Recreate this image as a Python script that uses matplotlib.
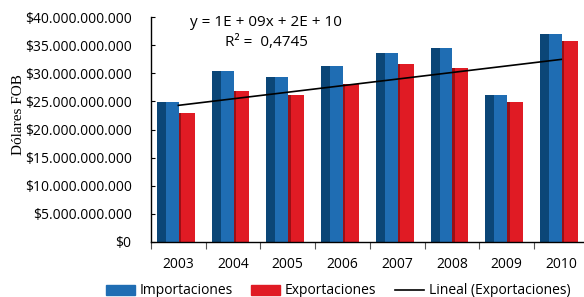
import numpy as np
import matplotlib.pyplot as plt
from matplotlib.patches import Patch
from matplotlib.lines import Line2D
from matplotlib.ticker import FuncFormatter

years = ['2003', '2004', '2005', '2006', '2007', '2008', '2009', '2010']
importaciones = [24.84e9, 30.40e9, 29.33e9, 31.29e9, 33.60e9, 34.49e9, 26.13e9, 36.98e9]
exportaciones = [22.88e9, 26.84e9, 26.13e9, 28.03e9, 31.64e9, 30.88e9, 24.89e9, 35.73e9]

blue = '#1f6db3'
blue_dark = '#0b4677'
red = '#e01b24'
red_dark = '#9b0f15'

plt.rcParams['font.family'] = ['Open Sans', 'DejaVu Sans']

fig = plt.figure(figsize=(5.84, 2.97), dpi=100)
ax = fig.add_axes([151 / 584, 55 / 297, 437.6 / 584, 225 / 297])

x = np.arange(len(years))
# blue bars: dark side face + lighter front
ax.bar(x - 0.39, importaciones, width=0.40, align='edge', color=blue, linewidth=0)
ax.bar(x - 0.39, importaciones, width=0.165, align='edge', color=blue_dark, linewidth=0)
# red bars: thin dark side + front
ax.bar(x + 0.01, exportaciones, width=0.29, align='edge', color=red, linewidth=0)
ax.bar(x + 0.01, exportaciones, width=0.045, align='edge', color=red_dark, linewidth=0)

# linear trend of exports
coef = np.polyfit(x + 1, exportaciones, 1)
ax.plot([x[0], x[-1]], np.polyval(coef, [1, len(x)]), color='black', linewidth=1.2)

ax.set_xlim(-0.5, 7.5)
ax.set_ylim(0, 40e9)
ax.set_yticks(np.arange(0, 40.1e9, 5e9))
ax.yaxis.set_major_formatter(FuncFormatter(lambda v, p: '$' + f'{v:,.0f}'.replace(',', '.')))
ax.tick_params(axis='y', direction='in', length=3, pad=14, labelsize=10, colors='black')

ax.set_xticks(np.arange(-0.5, 8, 1))
ax.set_xticklabels([])
ax.set_xticks(x, minor=True)
ax.set_xticklabels(years, minor=True, fontsize=10)
ax.tick_params(axis='x', which='major', direction='out', length=5, color='#555555')
ax.tick_params(axis='x', which='minor', length=0, pad=11)

for s in ['top', 'right']:
    ax.spines[s].set_visible(False)
ax.spines['left'].set_linewidth(1.0)
ax.spines['bottom'].set_linewidth(1.0)

fig.text(19 / 584, 1 - 115 / 297, 'Dólares FOB', family='Liberation Serif', fontsize=11,
         rotation=90, ha='center', va='center')

fig.text(266 / 584, 1 - 22 / 297, 'y = 1E + 09x + 2E + 10', ha='center', va='center', fontsize=11)
fig.text(266 / 584, 1 - 42 / 297, 'R² =  0,4745', ha='center', va='center', fontsize=11)

handles = [Patch(color=blue), Patch(color=red), Line2D([0], [0], color='black', linewidth=1.2)]
labels = ['Importaciones', 'Exportaciones', 'Lineal (Exportaciones)']
fig.legend(handles, labels, loc='center', bbox_to_anchor=(338 / 584, 1 - 291 / 297), ncol=3,
           frameon=False, fontsize=10, handlelength=2.1, handletextpad=0.35,
           columnspacing=1.3, borderpad=0)

fig.savefig('out.png', dpi=100)
